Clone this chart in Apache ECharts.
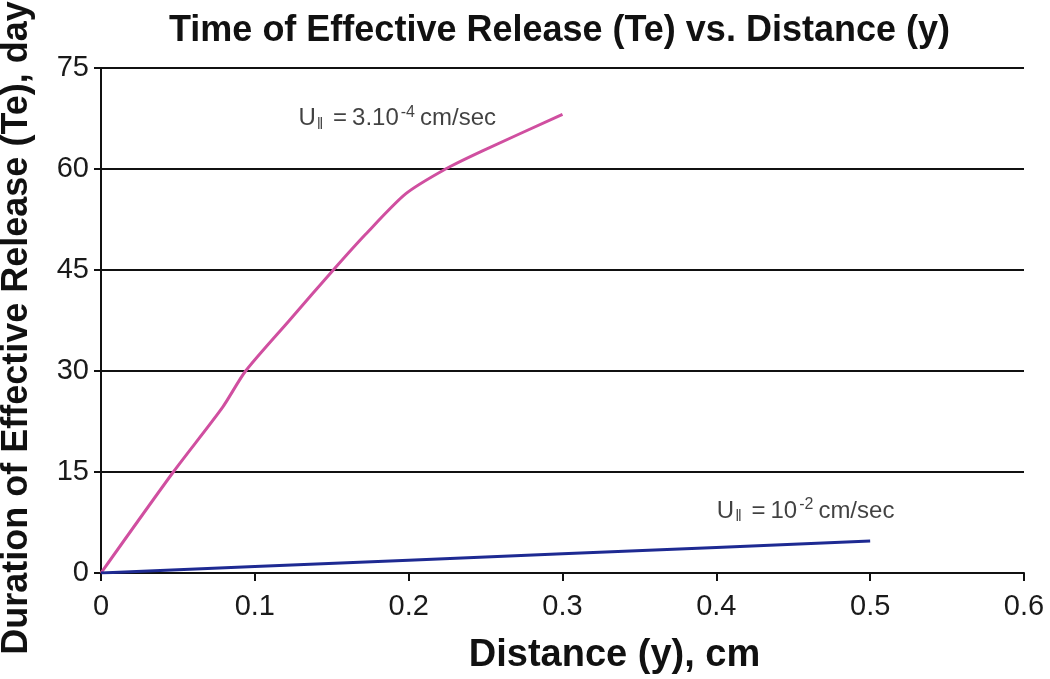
<!DOCTYPE html>
<html><head><meta charset="utf-8">
<script src="https://cdn.jsdelivr.net/npm/echarts@6/dist/echarts.min.js"></script>
<style>html,body{margin:0;padding:0;background:#fff}#c{width:1050px;height:679px}</style>
</head><body><div id="c"></div>
<script>
const titleText = 'Time of Effective Release (Te) vs. Distance (y)';
const xAxisName = 'Distance (y), cm';
const yAxisName = 'Duration of Effective Release (Te), day';
const slowX = [0, 0.047, 0.079, 0.094, 0.122, 0.151, 0.172, 0.198, 0.224, 0.248, 0.300];
const slowY = [0, 15, 24.6, 30, 37.4, 45, 50.3, 56.3, 60, 62.7, 68.1];
const fastX = [0, 0.1, 0.2, 0.3, 0.4, 0.5];
const fastY = [0, 0.95, 1.9, 2.85, 3.8, 4.75];
const slowLabelPos = [0.128, 67.5];
const fastLabelPos = [0.4, 9.2];

const AF = "'Liberation Sans',Arial,sans-serif";
const rich = {
  u: {fontFamily: AF, fontSize: 24, color: '#111', textBorderWidth: 0},
  n: {fontFamily: AF, fontSize: 24, color: '#111', padding: [0, 0, 0, 5], textBorderWidth: 0},
  sub: {fontFamily: AF, fontSize: 16, color: '#111', verticalAlign: 'bottom', padding: [12, 3, 0, 1], textBorderWidth: 0},
  sup: {fontFamily: AF, fontSize: 16, color: '#111', verticalAlign: 'top', padding: [0, 5, 10, 2], textBorderWidth: 0}
};
function labelSeries(pos, text) {
  return {type: 'scatter', silent: true, data: [pos], symbol: 'circle', symbolSize: 1,
    itemStyle: {color: 'rgba(0,0,0,0)'},
    label: {show: true, position: 'right', distance: 0, formatter: text, rich: rich, color: '#111', textBorderWidth: 0}};
}
const chart = echarts.init(document.getElementById('c'));
chart.setOption({
  backgroundColor: '#fff',
  animation: false,
  title: {text: titleText, left: 164, top: 8,
    textStyle: {fontFamily: AF, fontWeight: 'bold', fontSize: 36, color: '#111'}},
  grid: {left: 101, right: 26, top: 68, bottom: 106, containLabel: false, outerBoundsMode: 'none'},
  xAxis: {type: 'value', min: 0, max: 0.6, interval: 0.1,
    name: xAxisName, nameLocation: 'middle', nameGap: 64,
    nameTextStyle: {fontFamily: AF, fontWeight: 'bold', fontSize: 38, color: '#111', padding: [0, 0, 0, 104]},
    axisLine: {lineStyle: {color: '#111', width: 2}},
    axisTick: {inside: false, length: 8, lineStyle: {color: '#111', width: 2}},
    axisLabel: {fontFamily: AF, fontSize: 29, color: '#1a1a1a', margin: 19,
      formatter: v => (Math.round(v*10)/10).toString()},
    splitLine: {show: false}},
  yAxis: {type: 'value', min: 0, max: 75, interval: 15,
    name: yAxisName, nameLocation: 'middle', nameGap: 66, nameRotate: 90,
    nameTextStyle: {fontFamily: AF, fontWeight: 'bold', fontSize: 36, color: '#111', padding: [0, 15, 0, 0]},
    axisLine: {show: true, lineStyle: {color: '#111', width: 2}},
    axisTick: {show: true, length: 7, lineStyle: {color: '#111', width: 2}},
    axisLabel: {fontFamily: AF, fontSize: 29, color: '#1a1a1a', margin: 12},
    splitLine: {show: true, lineStyle: {color: '#111', width: 2}}},
  series: [
    {type: 'line', name: 'slow', data: slowX.map((x,i)=>[x, slowY[i]]), showSymbol: false,
      smooth: 0.25, lineStyle: {color: '#d04fa0', width: 3}, itemStyle:{color:'#d04fa0'}},
    {type: 'line', name: 'fast', data: fastX.map((x,i)=>[x, fastY[i]]), showSymbol: false,
      lineStyle: {color: '#1e2a92', width: 3}, itemStyle:{color:'#1e2a92'}},
    labelSeries(slowLabelPos, '{u|U}{sub|‖}{u| =}{n|3.10}{sup|-4}{u|cm/sec}'),
    labelSeries(fastLabelPos, '{u|U}{sub|‖}{u| =}{n|10}{sup|-2}{u|cm/sec}')
  ]
});
</script></body></html>
